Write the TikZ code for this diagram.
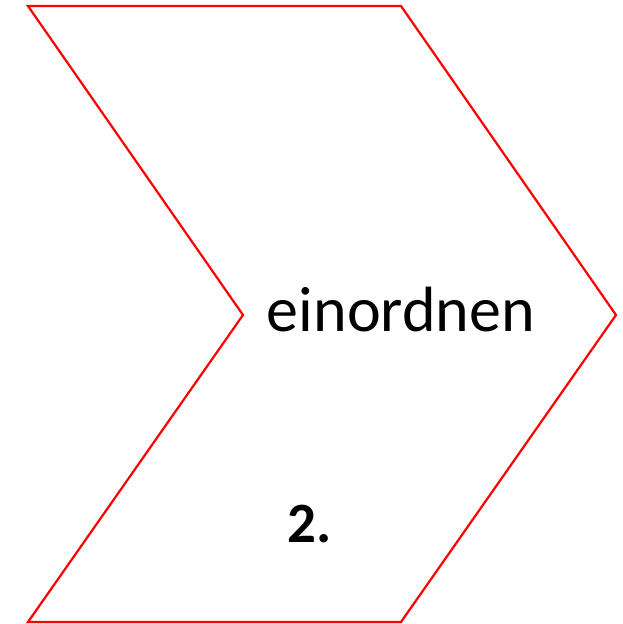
\documentclass[tikz,border=0pt]{standalone}
\usepackage{fontspec}
\setmainfont{Carlito}
\begin{document}
\begin{tikzpicture}[x=1pt,y=-1pt,
  chev/.style={draw=red,line width=2.2pt,line join=miter},
  lbl/.style={anchor=base,inner sep=0pt,font=\fontsize{64}{76}\selectfont},
  num/.style={anchor=base,inner sep=0pt,font=\fontsize{57}{68}\selectfont\bfseries}]
\useasboundingbox (0,0) rectangle (623,624);
\draw[chev] (28,6) coordinate (tl) -- (401,6) coordinate (tr) -- (616,315) coordinate (tip)
  -- (401,622) coordinate (br) -- (28,622) coordinate (bl) -- (243,315) coordinate (notch) -- cycle;
\node[lbl] (word) at (401,331) {einordnen};
\node[num] (n2) at (310,542) {2.};
\end{tikzpicture}
\end{document}
